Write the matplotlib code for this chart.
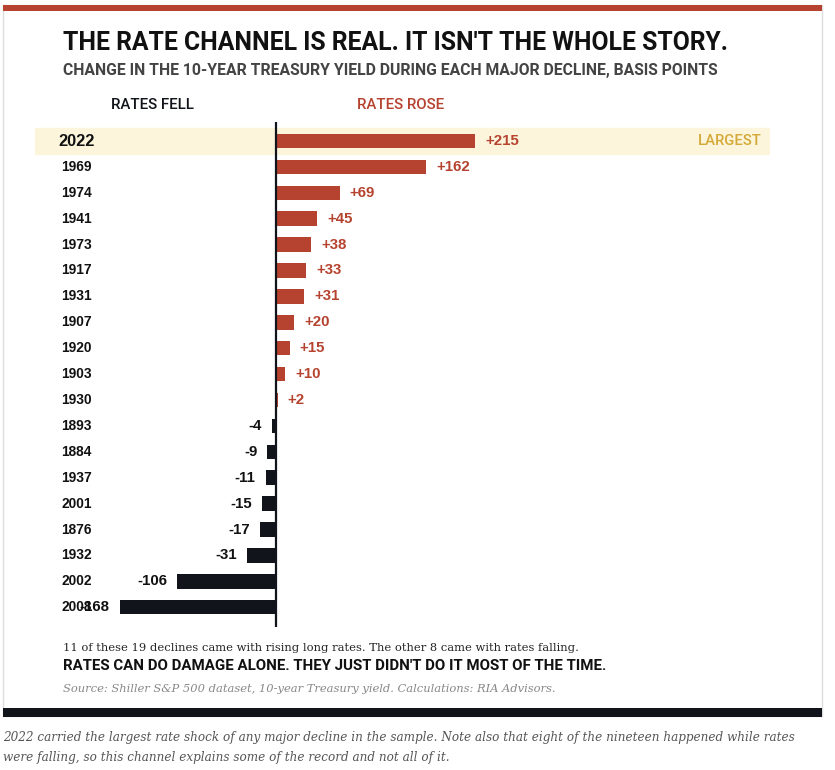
import matplotlib.pyplot as plt
from matplotlib.patches import Rectangle
from matplotlib.transforms import blended_transform_factory, offset_copy

years = ["2022", "1969", "1974", "1941", "1973", "1917", "1931", "1907", "1920",
         "1903", "1930", "1893", "1884", "1937", "2001", "1876", "1932", "2002", "2008"]
changes_bp = [215, 162, 69, 45, 38, 33, 31, 20, 15, 10, 2,
              -4, -9, -11, -15, -17, -31, -106, -168]

RED = "#b5432f"
DARK = "#11141a"
GOLD = "#d4aa3a"
BAND = "#fcf5dc"
COND = ["Roboto", "DejaVu Sans"]
ARIAL = ["Liberation Sans", "DejaVu Sans"]
SERIF = ["DejaVu Serif"]

W, H = 835, 770
fig = plt.figure(figsize=(W / 100, H / 100), dpi=100)
renderer = fig.canvas.get_renderer()


def fx(px):
    return px / W


def fy(py):
    return 1 - py / H


def fit(t, width_px):
    # shrink/grow a text so it spans the width seen in the reference
    w = t.get_window_extent(renderer).width
    t.set_fontsize(t.get_fontsize() * width_px / w)
    return t


# card frame, top rule, bottom rule
fig.patches.append(Rectangle((fx(3), fy(716)), fx(819), 711 / H, transform=fig.transFigure,
                             facecolor="white", edgecolor="#dddddd", lw=1, zorder=-5))
fig.patches.append(Rectangle((fx(3), fy(11)), fx(819), 6 / H, transform=fig.transFigure,
                             facecolor=RED, edgecolor="none", zorder=-4))
fig.patches.append(Rectangle((fx(3), fy(717)), fx(819), 9 / H, transform=fig.transFigure,
                             facecolor=DARK, edgecolor="none", zorder=-4))

fit(fig.text(fx(63), fy(43), "THE RATE CHANNEL IS REAL. IT ISN'T THE WHOLE STORY.",
             family=COND, weight="bold", fontsize=20, color="#111111", va="center"), 664)
fit(fig.text(fx(63), fy(71), "CHANGE IN THE 10-YEAR TREASURY YIELD DURING EACH MAJOR DECLINE, BASIS POINTS",
             family=COND, weight="bold", fontsize=9.5, color="#444444", va="center"), 659)
fit(fig.text(fx(111), fy(105), "RATES FELL", family=COND, weight="medium", fontsize=10.5,
             color=DARK, va="center"), 83)
fit(fig.text(fx(357), fy(105), "RATES ROSE", family=COND, weight="medium", fontsize=10.5,
             color=RED, va="center"), 87)

# chart axes: zero at x=275.7px, about 0.927 px per basis point
zero_px, scale = 275.7, 0.927
left_px, right_px, top_px, bot_px = 35, 770, 122, 627
row0, step = 141, 25.9
ax = fig.add_axes([fx(left_px), fy(bot_px), fx(right_px - left_px), (bot_px - top_px) / H])
ax.set_xlim((left_px - zero_px) / scale, (right_px - zero_px) / scale)
ax.set_ylim((bot_px - row0) / step, (top_px - row0) / step)
ax.axis("off")

n = len(years)
pos = list(range(n))
colors = [RED if v > 0 else DARK for v in changes_bp]
ax.axhspan(-0.5, 0.5, color=BAND, zorder=0)
ax.barh(pos, changes_bp, height=0.56, color=colors, zorder=2)
ax.axvline(0, color=DARK, lw=1.6, zorder=3)

ylab = blended_transform_factory(fig.transFigure, ax.transData)
for i, (yr, v) in enumerate(zip(years, changes_bp)):
    ax.text(fx(58) if i == 0 else fx(61), i, yr, transform=ylab,
            fontsize=11.8 if i == 0 else 9.9, family=ARIAL,
            weight="bold", color="#111111", va="center", ha="left", zorder=4)
    if v > 0:
        tr = offset_copy(ax.transData, fig=fig, x=7.3, y=0, units="points")
        ax.text(v, i, f"+{v}", transform=tr, fontsize=10.8, weight="bold",
                family=ARIAL, color=RED, va="center", ha="left", zorder=4)
    else:
        tr = offset_copy(ax.transData, fig=fig, x=-7.3, y=0, units="points")
        ax.text(v, i, f"{v}", transform=tr, fontsize=10.8, weight="bold",
                family=ARIAL, color="#111111", va="center", ha="right", zorder=4)

fit(fig.text(fx(762), fy(row0), "LARGEST", family=COND, weight="medium", fontsize=10.5,
             color=GOLD, ha="right", va="center"), 64)

fit(fig.text(fx(63), fy(648), "11 of these 19 declines came with rising long rates. The other 8 came with rates falling.",
             family=SERIF, fontsize=8.6, color="#222222", va="center"), 512)
fit(fig.text(fx(63), fy(666), "RATES CAN DO DAMAGE ALONE. THEY JUST DIDN'T DO IT MOST OF THE TIME.",
             family=COND, weight="bold", fontsize=11, color="#111111", va="center"), 542)
fit(fig.text(fx(63), fy(689), "Source: Shiller S&P 500 dataset, 10-year Treasury yield. Calculations: RIA Advisors.",
             family=SERIF, style="italic", fontsize=8.2, color="#888888", va="center"), 494)

cap = fit(fig.text(fx(3), fy(738), "2022 carried the largest rate shock of any major decline in the sample. Note also that eight of the nineteen happened while rates",
                   family=SERIF, style="italic", fontsize=8.6, color="#555555", va="center"), 786)
fig.text(fx(3), fy(758), "were falling, so this channel explains some of the record and not all of it.",
         family=SERIF, style="italic", fontsize=cap.get_fontsize(), color="#555555", va="center")

fig.savefig("out.png", dpi=100)
